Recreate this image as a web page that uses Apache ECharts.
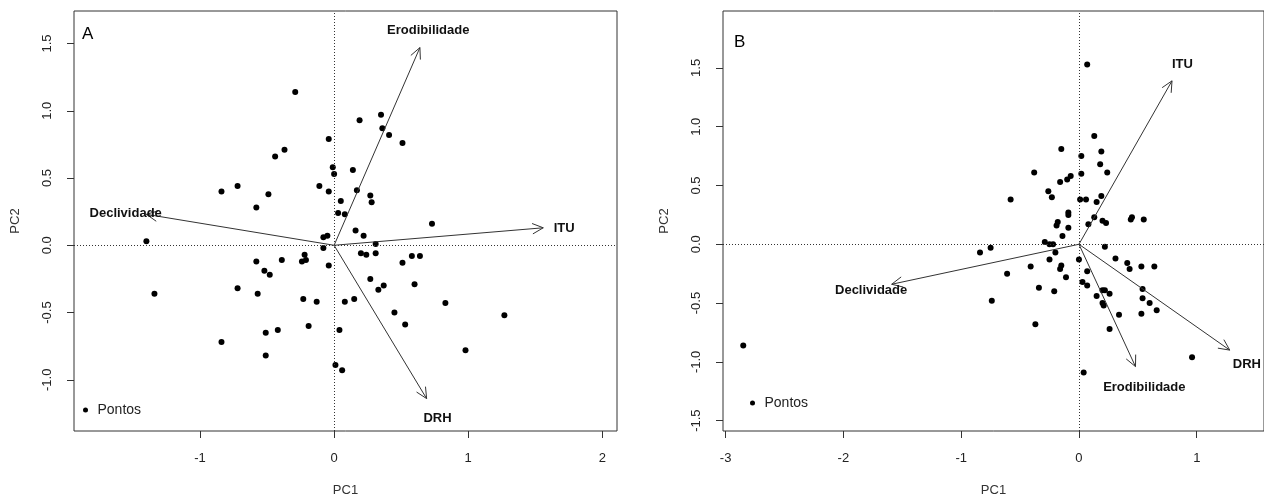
<!DOCTYPE html>
<html>
<head>
<meta charset="utf-8">
<script src="https://cdn.jsdelivr.net/npm/echarts@6/dist/echarts.min.js"></script>
<style>
  html, body { margin: 0; padding: 0; background: #fff; }
  #chart { width: 1264px; height: 499px; }
</style>
</head>
<body>
<div id="chart"></div>
<script>
// PCA scores (PC1, PC2) for each sampling point
const scoresA = [
  [-0.29,1.14],[0.35,0.97],[0.19,0.93],[0.36,0.87],[0.41,0.82],[0.51,0.76],[-0.04,0.79],
  [-0.37,0.71],[-0.44,0.66],[-0.01,0.58],[0.00,0.53],[0.14,0.56],[-0.84,0.40],[-0.72,0.44],
  [-0.49,0.38],[-0.58,0.28],[-0.11,0.44],[-0.04,0.40],[0.17,0.41],[0.27,0.37],[0.28,0.32],
  [0.05,0.33],[0.03,0.24],[0.08,0.23],[0.73,0.16],[0.16,0.11],[0.22,0.07],[-0.08,0.06],
  [-0.05,0.07],[0.31,0.01],[-0.08,-0.02],[0.20,-0.06],[0.24,-0.07],[0.31,-0.06],[0.58,-0.08],
  [0.64,-0.08],[0.51,-0.13],[-0.58,-0.12],[-0.39,-0.11],[-0.22,-0.07],[-0.21,-0.11],[-0.24,-0.12],
  [-0.04,-0.15],[-0.52,-0.19],[-0.48,-0.22],[-0.72,-0.32],[-0.57,-0.36],[-0.23,-0.40],[-0.13,-0.42],
  [0.08,-0.42],[0.15,-0.40],[0.27,-0.25],[0.33,-0.33],[0.37,-0.30],[0.60,-0.29],[0.83,-0.43],
  [0.45,-0.50],[0.53,-0.59],[1.27,-0.52],[-0.51,-0.65],[-0.42,-0.63],[-0.19,-0.60],[0.04,-0.63],
  [-0.84,-0.72],[-0.51,-0.82],[0.98,-0.78],[0.01,-0.89],[0.06,-0.93],[-1.40,0.03],[-1.34,-0.36]
];
const scoresB = [
  [0.07,1.53],[0.13,0.92],[-0.15,0.81],[0.02,0.75],[0.19,0.79],[0.18,0.68],[0.24,0.61],
  [-0.38,0.61],[0.02,0.60],[-0.16,0.53],[-0.10,0.55],[-0.07,0.58],[-0.26,0.45],[-0.23,0.40],
  [-0.58,0.38],[0.01,0.38],[0.06,0.38],[0.19,0.41],[0.15,0.36],[-0.09,0.27],[-0.09,0.25],
  [-0.18,0.19],[-0.19,0.16],[-0.09,0.14],[-0.14,0.07],[0.13,0.23],[0.08,0.17],[0.20,0.20],
  [0.23,0.18],[0.45,0.23],[0.44,0.21],[0.55,0.21],[-0.29,0.02],[-0.25,0.00],[-0.22,0.00],
  [-0.75,-0.03],[0.22,-0.02],[-0.84,-0.07],[-0.20,-0.07],[-0.25,-0.13],[-0.41,-0.19],[-0.15,-0.18],
  [-0.16,-0.21],[0.00,-0.13],[0.31,-0.12],[0.41,-0.16],[0.43,-0.21],[0.53,-0.19],[0.64,-0.19],
  [-0.61,-0.25],[-0.11,-0.28],[0.07,-0.23],[-0.34,-0.37],[-0.21,-0.40],[0.03,-0.32],[0.07,-0.35],
  [0.20,-0.39],[0.22,-0.39],[0.26,-0.42],[0.15,-0.44],[0.20,-0.50],[0.21,-0.52],[0.34,-0.60],
  [0.26,-0.72],[0.54,-0.38],[0.54,-0.46],[0.60,-0.50],[0.66,-0.56],[0.53,-0.59],[-0.74,-0.48],
  [-0.37,-0.68],[0.04,-1.09],[0.96,-0.96],[-2.85,-0.86]
];

// Variable loadings (arrow tips)
const variables = ['Erodibilidade', 'ITU', 'Declividade', 'DRH'];
const loadingsA = [[0.64,1.47],[1.56,0.13],[-1.40,0.23],[0.69,-1.14]];
const loadingsB = [[0.48,-1.04],[0.79,1.39],[-1.59,-0.34],[1.28,-0.90]];

// Axis tick positions
const ticksAX = [-1, 0, 1, 2];
const ticksAY = [-1, -0.5, 0, 0.5, 1, 1.5];
const ticksBX = [-3, -2, -1, 0, 1];
const ticksBY = [-1.5, -1, -0.5, 0, 0.5, 1, 1.5];

const FONT = 'Arial, "Liberation Sans", sans-serif';
const INK = '#222';

function xAxis(grid, min, max, ticks) {
  return {
    type: 'value', gridIndex: grid, min: min, max: max,
    name: 'PC1', nameLocation: 'middle', nameGap: 53,
    nameTextStyle: { color: '#333', fontSize: 13, fontFamily: FONT },
    axisLine: { show: false, onZero: false },
    axisTick: { show: true, length: 7, customValues: ticks, lineStyle: { color: '#333' } },
    axisLabel: { customValues: ticks, margin: 21, color: INK, fontSize: 13, fontFamily: FONT,
                 formatter: v => String(Math.round(v)) },
    splitLine: { show: false }
  };
}
function yAxis(grid, min, max, ticks) {
  return {
    type: 'value', gridIndex: grid, min: min, max: max,
    name: 'PC2', nameLocation: 'middle', nameGap: 52, nameRotate: 90,
    nameTextStyle: { color: '#333', fontSize: 13, fontFamily: FONT },
    axisLine: { show: false, onZero: false },
    axisTick: { show: true, length: 7, customValues: ticks, lineStyle: { color: '#333' } },
    axisLabel: { customValues: ticks, rotate: 90, margin: 20, color: INK, fontSize: 13, fontFamily: FONT,
                 formatter: v => v.toFixed(1) },
    splitLine: { show: false }
  };
}

function scoreSeries(grid, data) {
  return {
    name: 'Pontos', type: 'scatter', xAxisIndex: grid, yAxisIndex: grid,
    data: data, symbol: 'circle', symbolSize: 6,
    itemStyle: { color: '#000', opacity: 1 }, silent: true, z: 2,
    markLine: {
      silent: true, symbol: 'none', animation: false,
      label: { show: false },
      lineStyle: { color: '#333', width: 1, type: [1, 2] },
      data: [{ xAxis: 0 }, { yAxis: 0 }]
    }
  };
}

// Biplot arrows: line from the origin to each loading, open arrow head, bold label just past the tip
function arrowSeries(grid, loads) {
  return {
    type: 'custom', xAxisIndex: grid, yAxisIndex: grid, silent: true, z: 3,
    data: loads,
    renderItem(params, api) {
      const x = api.value(0), y = api.value(1);
      const o = api.coord([0, 0]);
      const t = api.coord([x, y]);
      const ang = Math.atan2(t[1] - o[1], t[0] - o[0]);
      const ux = Math.cos(ang), uy = Math.sin(ang);
      const L = 12, a = Math.PI / 7, gap = 21;
      const b1 = [t[0] - L * Math.cos(ang - a), t[1] - L * Math.sin(ang - a)];
      const b2 = [t[0] - L * Math.cos(ang + a), t[1] - L * Math.sin(ang + a)];
      const ls = { stroke: '#333', lineWidth: 1, fill: 'none' };
      return {
        type: 'group',
        children: [
          { type: 'line', shape: { x1: o[0], y1: o[1], x2: t[0], y2: t[1] }, style: ls },
          { type: 'polyline', shape: { points: [b1, t, b2] }, style: ls },
          { type: 'text', style: { text: variables[params.dataIndex],
              x: t[0] + gap * ux, y: t[1] + gap * uy + 2,
              align: 'center', verticalAlign: 'middle', fill: '#111',
              font: 'bold 13px ' + FONT } }
        ]
      };
    }
  };
}

const legendStyle = {
  data: ['Pontos'], orient: 'vertical', icon: 'circle',
  itemWidth: 14, itemHeight: 5, itemGap: 0,
  textStyle: { color: '#222', fontSize: 14, fontFamily: FONT },
  selectedMode: false
};

const option = {
  animation: false,
  backgroundColor: '#fff',
  title: [
    { text: 'A', left: 77, top: 21, textStyle: { fontSize: 17, fontWeight: 'normal', color: '#000', fontFamily: FONT } },
    { text: 'B', left: 729, top: 29, textStyle: { fontSize: 17, fontWeight: 'normal', color: '#000', fontFamily: FONT } }
  ],
  legend: [
    Object.assign({ left: 78, top: 398 }, legendStyle),
    Object.assign({ left: 745, top: 391 }, legendStyle)
  ],
  grid: [
    { left: 74, top: 11, width: 543, height: 420, outerBoundsMode: 'none', containLabel: false,
      show: true, borderColor: '#333', borderWidth: 1, backgroundColor: 'transparent' },
    { left: 723, top: 11, width: 541, height: 420, outerBoundsMode: 'none', containLabel: false,
      show: true, borderColor: '#333', borderWidth: 1, backgroundColor: 'transparent' }
  ],
  xAxis: [ xAxis(0, -1.94, 2.11, ticksAX), xAxis(1, -3.022, 1.571, ticksBX) ],
  yAxis: [ yAxis(0, -1.381, 1.742, ticksAY), yAxis(1, -1.588, 1.984, ticksBY) ],
  series: [
    scoreSeries(0, scoresA),
    arrowSeries(0, loadingsA),
    scoreSeries(1, scoresB),
    arrowSeries(1, loadingsB)
  ]
};

const chart = echarts.init(document.getElementById('chart'), null, { renderer: 'canvas' });
chart.setOption(option);
</script>
</body>
</html>
